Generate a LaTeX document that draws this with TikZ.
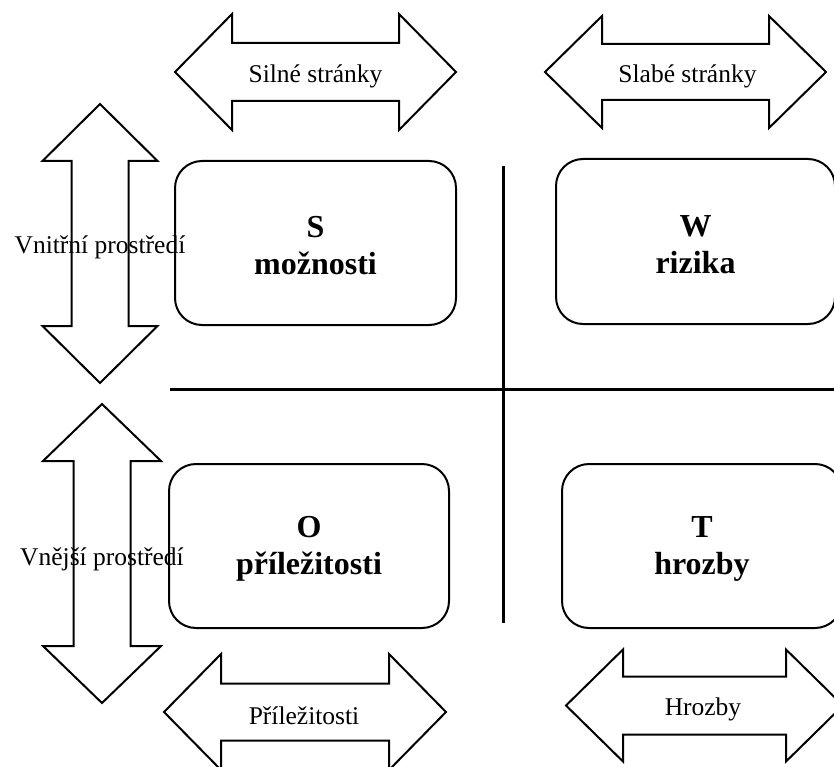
\documentclass[tikz,border=0pt]{standalone}
\usepackage{fontspec}
\setmainfont{Liberation Serif}
\newcommand{\swotHarrow}[5]{% cx, cy, half length, head half height, shaft half height
  \draw[arrowshape] ({#1-#3},#2) -- ({#1-#3+57},{#2-#4}) -- ({#1-#3+57},{#2-#5}) -- ({#1+#3-57},{#2-#5}) -- ({#1+#3-57},{#2-#4}) -- ({#1+#3},#2) -- ({#1+#3-57},{#2+#4}) -- ({#1+#3-57},{#2+#5}) -- ({#1-#3+57},{#2+#5}) -- ({#1-#3+57},{#2+#4}) -- cycle;}
\newcommand{\swotVarrow}[5]{% cx, cy, half length, head half width, shaft half width
  \draw[arrowshape] (#1,{#2-#3}) -- ({#1+#4},{#2-#3+57}) -- ({#1+#5},{#2-#3+57}) -- ({#1+#5},{#2+#3-57}) -- ({#1+#4},{#2+#3-57}) -- (#1,{#2+#3}) -- ({#1-#4},{#2+#3-57}) -- ({#1-#5},{#2+#3-57}) -- ({#1-#5},{#2-#3+57}) -- ({#1-#4},{#2-#3+57}) -- cycle;}
\newcommand{\swotstrut}{\rule{0pt}{27pt}}
\tikzset{
  arrowshape/.style={draw, line width=2pt, line join=miter},
  quadbox/.style={draw, line width=2pt, rounded corners=27pt, inner sep=0pt,
    align=center, font=\bfseries\fontsize{32}{37}\selectfont},
  lbl/.style={font=\fontsize{25.5}{30}\selectfont, inner sep=0pt},
  divider/.style={line width=3pt}
}
\begin{document}
\begin{tikzpicture}[x=1pt,y=-1pt]
  \useasboundingbox (0,0) rectangle (834,767);
  \clip (0,0) rectangle (834,767);
  \fill[white] (0,0) rectangle (834,767);

  % double arrows
  \swotHarrow{315.5}{72}{140.5}{58}{29}
  \swotHarrow{685.5}{72}{140.5}{56}{28}
  \swotVarrow{100}{243.5}{139.5}{57.5}{28.5}
  \swotVarrow{102}{553.5}{149.5}{59}{28.5}
  \swotHarrow{305}{712}{141}{58}{28.5}
  \swotHarrow{704.5}{705.5}{138.5}{56}{29}

  % divider lines
  \coordinate (hl) at (170,389);
  \coordinate (hr) at (840,389);
  \coordinate (vt) at (503,166);
  \coordinate (vb) at (503,623);
  \draw[divider] (hl) -- (hr);
  \draw[divider] (vt) -- (vb);

  % quadrant boxes
  \node[quadbox, minimum width=281pt, minimum height=164pt] (S) at (315.5,243) {\swotstrut S\\možnosti};
  \node[quadbox, minimum width=279pt, minimum height=165pt] (W) at (695.5,241.5) {\swotstrut W\\rizika};
  \node[quadbox, minimum width=280pt, minimum height=164pt] (O) at (309,546) {\swotstrut O\\příležitosti};
  \node[quadbox, minimum width=280pt, minimum height=164pt] (T) at (702,546) {\swotstrut T\\hrozby};

  % arrow labels
  \node[lbl] (silne) at (315.5,76) {Silné stránky};
  \node[lbl] (slabe) at (687.5,76) {Slabé stránky};
  \node[lbl] (prilez) at (304,716) {Příležitosti};
  \node[lbl] (hrozby) at (703,709) {Hrozby};
  \node[lbl] (vnitrni) at (100,247) {Vnitřní prostředí};
  \node[lbl] (vnejsi) at (102,559) {Vnější prostředí};
\end{tikzpicture}
\end{document}
